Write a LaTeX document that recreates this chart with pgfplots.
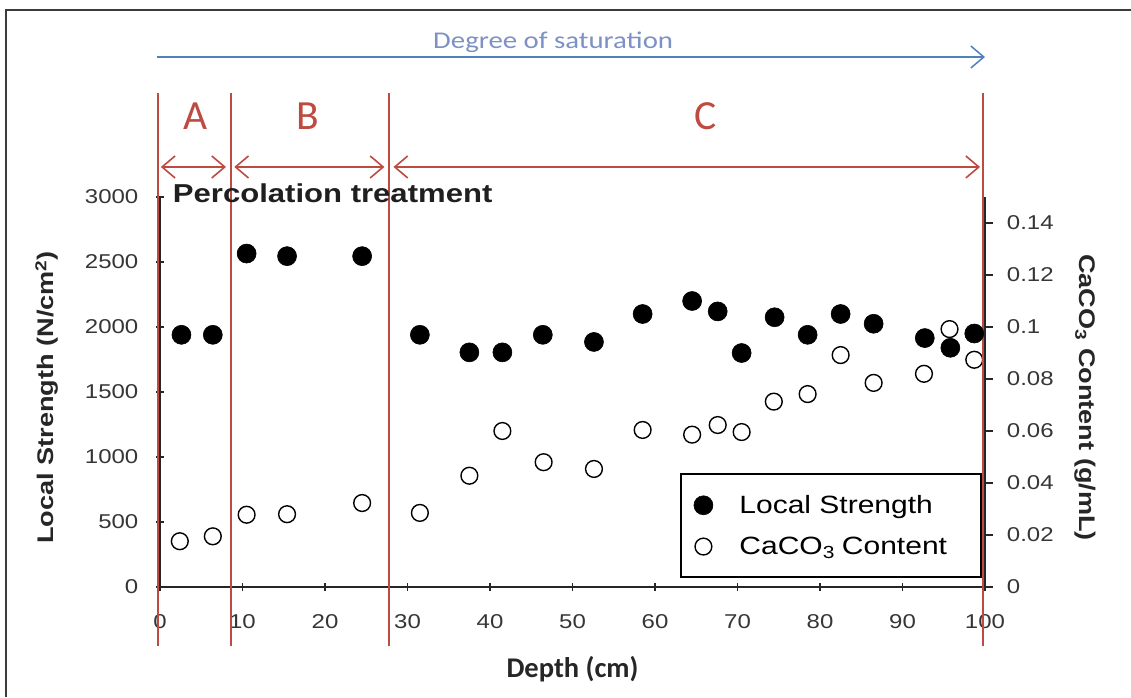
\documentclass[border=0pt]{standalone}
\usepackage{fontspec}
\setmainfont{Liberation Sans}[FakeStretch=1.2]
\newfontfamily\carlito{Carlito}
\newfontfamily\carlitowide{Carlito}[FakeStretch=1.2]
\usepackage{pgfplots}
\usepackage{pgfplotstable}
\pgfplotsset{compat=1.18}
\usetikzlibrary{arrows.meta}

\definecolor{axisdark}{HTML}{262626}
\definecolor{ticktext}{HTML}{363636}
\definecolor{zonered}{HTML}{BE4B41}
\definecolor{satblue}{HTML}{4F81BD}
\definecolor{sattext}{HTML}{7D91C4}

% Local strength of the percolation-treated column
\pgfplotstableread{
depth strength
2.6   1940
6.4   1940
10.5  2565
15.4  2545
24.5  2545
31.5  1940
37.5  1805
41.5  1805
46.4  1940
52.6  1885
58.5  2100
64.5  2200
67.6  2120
70.5  1800
74.5  2075
78.5  1940
82.5  2100
86.5  2025
92.7  1915
95.8  1840
98.7  1950
}\strengthdata

% CaCO3 content along the same column
\pgfplotstableread{
depth caco
2.4   0.0176
6.4   0.0195
10.5  0.0278
15.4  0.0280
24.5  0.0323
31.5  0.0285
37.5  0.0428
41.5  0.0600
46.5  0.0480
52.6  0.0454
58.5  0.0604
64.5  0.0586
67.6  0.0623
70.5  0.0596
74.4  0.0713
78.5  0.0742
82.5  0.0892
86.5  0.0785
92.6  0.0820
95.7  0.0992
98.7  0.0874
}\cacodata

\pgfplotsset{
  base/.style={
    scale only axis, width=825pt, height=390pt,
    at={(160pt,110pt)}, anchor=south west,
    xmin=0, xmax=100, clip=false,
    tick align=outside, major tick length=8pt,
    tick style={line width=1.4pt, draw=axisdark},
    tick label style={font=\fontsize{20}{24}\selectfont, text=ticktext, inner sep=0pt},
    /pgf/number format/assume math mode=true,
    /pgf/number format/1000 sep={},
    scaled x ticks=false, scaled y ticks=false,
  },
  plainlines/.style={
    axis line style={-, line width=2pt, draw=axisdark},
    every outer x axis line/.append style={-},
    every outer y axis line/.append style={-},
  },
  dotlegend/.style={legend image code/.code={%
    \path[draw=none, fill=none] (0pt,-11pt) rectangle (52pt,11pt);
    \draw[##1] plot coordinates {(18pt,0pt)};}},
  strengthmark/.style={only marks, mark=*, mark size=9.5pt,
    mark options={draw=black, fill=black, line width=0.6pt}, dotlegend},
  cacomark/.style={only marks, mark=o, mark size=8.4pt,
    mark options={draw=black, fill=none, line width=1.4pt}, dotlegend},
}
\tikzset{
  zonearrow/.style={draw=zonered, line width=1.6pt,
    {Straight Barb[length=13pt,width=22pt]}-{Straight Barb[length=13pt,width=22pt]}},
}

\begin{document}
\begin{tikzpicture}[x=1pt,y=1pt]
\useasboundingbox (0,0) rectangle (1131,697);
\fill[white] (0,0) rectangle (1131,697);
% frame of the figure panel
\draw[axisdark!90, line width=2pt] (6,0) -- (6,687) -- (1131,687);

% right axis: CaCO3 content
\begin{axis}[base,
  ymin=0, ymax=0.15,
  axis x line=none, axis y line*=right, plainlines,
  ytick={0,0.02,0.04,0.06,0.08,0.1,0.12,0.14},
  yticklabels={0,0.02,0.04,0.06,0.08,0.1,0.12,0.14},
  yticklabel style={anchor=west, xshift=13.7pt},
  legend style={at={(0.9964,0.023)}, anchor=south east,
    draw=black, line width=2pt, fill=white,
    font=\fontsize{25}{30}\selectfont,
    inner xsep=4pt, inner ysep=19pt, row sep=18pt,
    nodes={inner sep=2pt}, cells={anchor=west}},
]
\addlegendimage{strengthmark}
\addlegendentry{Local Strength}
\addplot[cacomark] table[x=depth, y=caco] {\cacodata};
\addlegendentry{CaCO\textsubscript{3}\hspace{7pt}Content\hspace*{28pt}}
\end{axis}

% left axis: local strength, plus the zone markings
\begin{axis}[base,
  ymin=0, ymax=3000,
  axis x line=bottom, axis y line=left, plainlines,
  xtick={0,10,...,100},
  ytick={0,500,...,3000},
  xticklabel style={anchor=north, yshift=-23pt},
  yticklabel style={anchor=east, xshift=-17.5pt},
]
\addplot[strengthmark] table[x=depth, y=strength] {\strengthdata};

% zone boundaries
\draw[zonered, line width=2pt] (axis cs:-0.25,-454) -- (axis cs:-0.25,3800);
\draw[zonered, line width=2pt] (axis cs:8.6,-454) -- (axis cs:8.6,3800);
\draw[zonered, line width=2pt] (axis cs:27.8,-454) -- (axis cs:27.8,3800);
\draw[zonered, line width=2pt] (axis cs:99.8,-454) -- (axis cs:99.8,3800);
% zone extents
\draw[zonearrow] (axis cs:0.1,3231) -- (axis cs:8.0,3231);
\draw[zonearrow] (axis cs:9.0,3231) -- (axis cs:27.2,3231);
\draw[zonearrow] (axis cs:28.3,3231) -- (axis cs:99.4,3231);
\end{axis}

% panel title
\node[anchor=base west, inner sep=0pt, font=\bfseries\fontsize{25.9}{31}\selectfont, text=black!88]
  at (172.7,494) {Percolation treatment};

% axis titles
\node[rotate=90, inner sep=0pt, font=\bfseries\fontsize{22.6}{27}\selectfont, text=axisdark]
  at (47,299.5) {Local Strength (N/cm\textsuperscript{2})};
\node[rotate=-90, inner sep=0pt, font=\bfseries\fontsize{22.6}{27}\selectfont, text=axisdark]
  at (1085,299.5) {CaCO\textsubscript{3} Content (g/mL)};
\node[anchor=base, inner sep=0pt, font=\carlito\bfseries\fontsize{28.5}{34}\selectfont, text=axisdark]
  at (572.5,20) {Depth (cm)};

% saturation arrow
\draw[satblue, line width=1.5pt, -{Straight Barb[length=13pt,width=22pt]}] (157,640) -- (985,640);
\node[anchor=base west, inner sep=0pt, font=\carlitowide\fontsize{24}{29}\selectfont, text=sattext]
  at (433,648.7) {Degree of saturation};

% zone letters
\node[anchor=base, inner sep=0pt, font=\carlito\fontsize{41.5}{48}\selectfont, text=zonered] at (196,567) {A};
\node[anchor=base, inner sep=0pt, font=\carlito\fontsize{41.5}{48}\selectfont, text=zonered] at (307.6,567) {B};
\node[anchor=base, inner sep=0pt, font=\carlito\fontsize{41.5}{48}\selectfont, text=zonered] at (706,567) {C};
\end{tikzpicture}
\end{document}
